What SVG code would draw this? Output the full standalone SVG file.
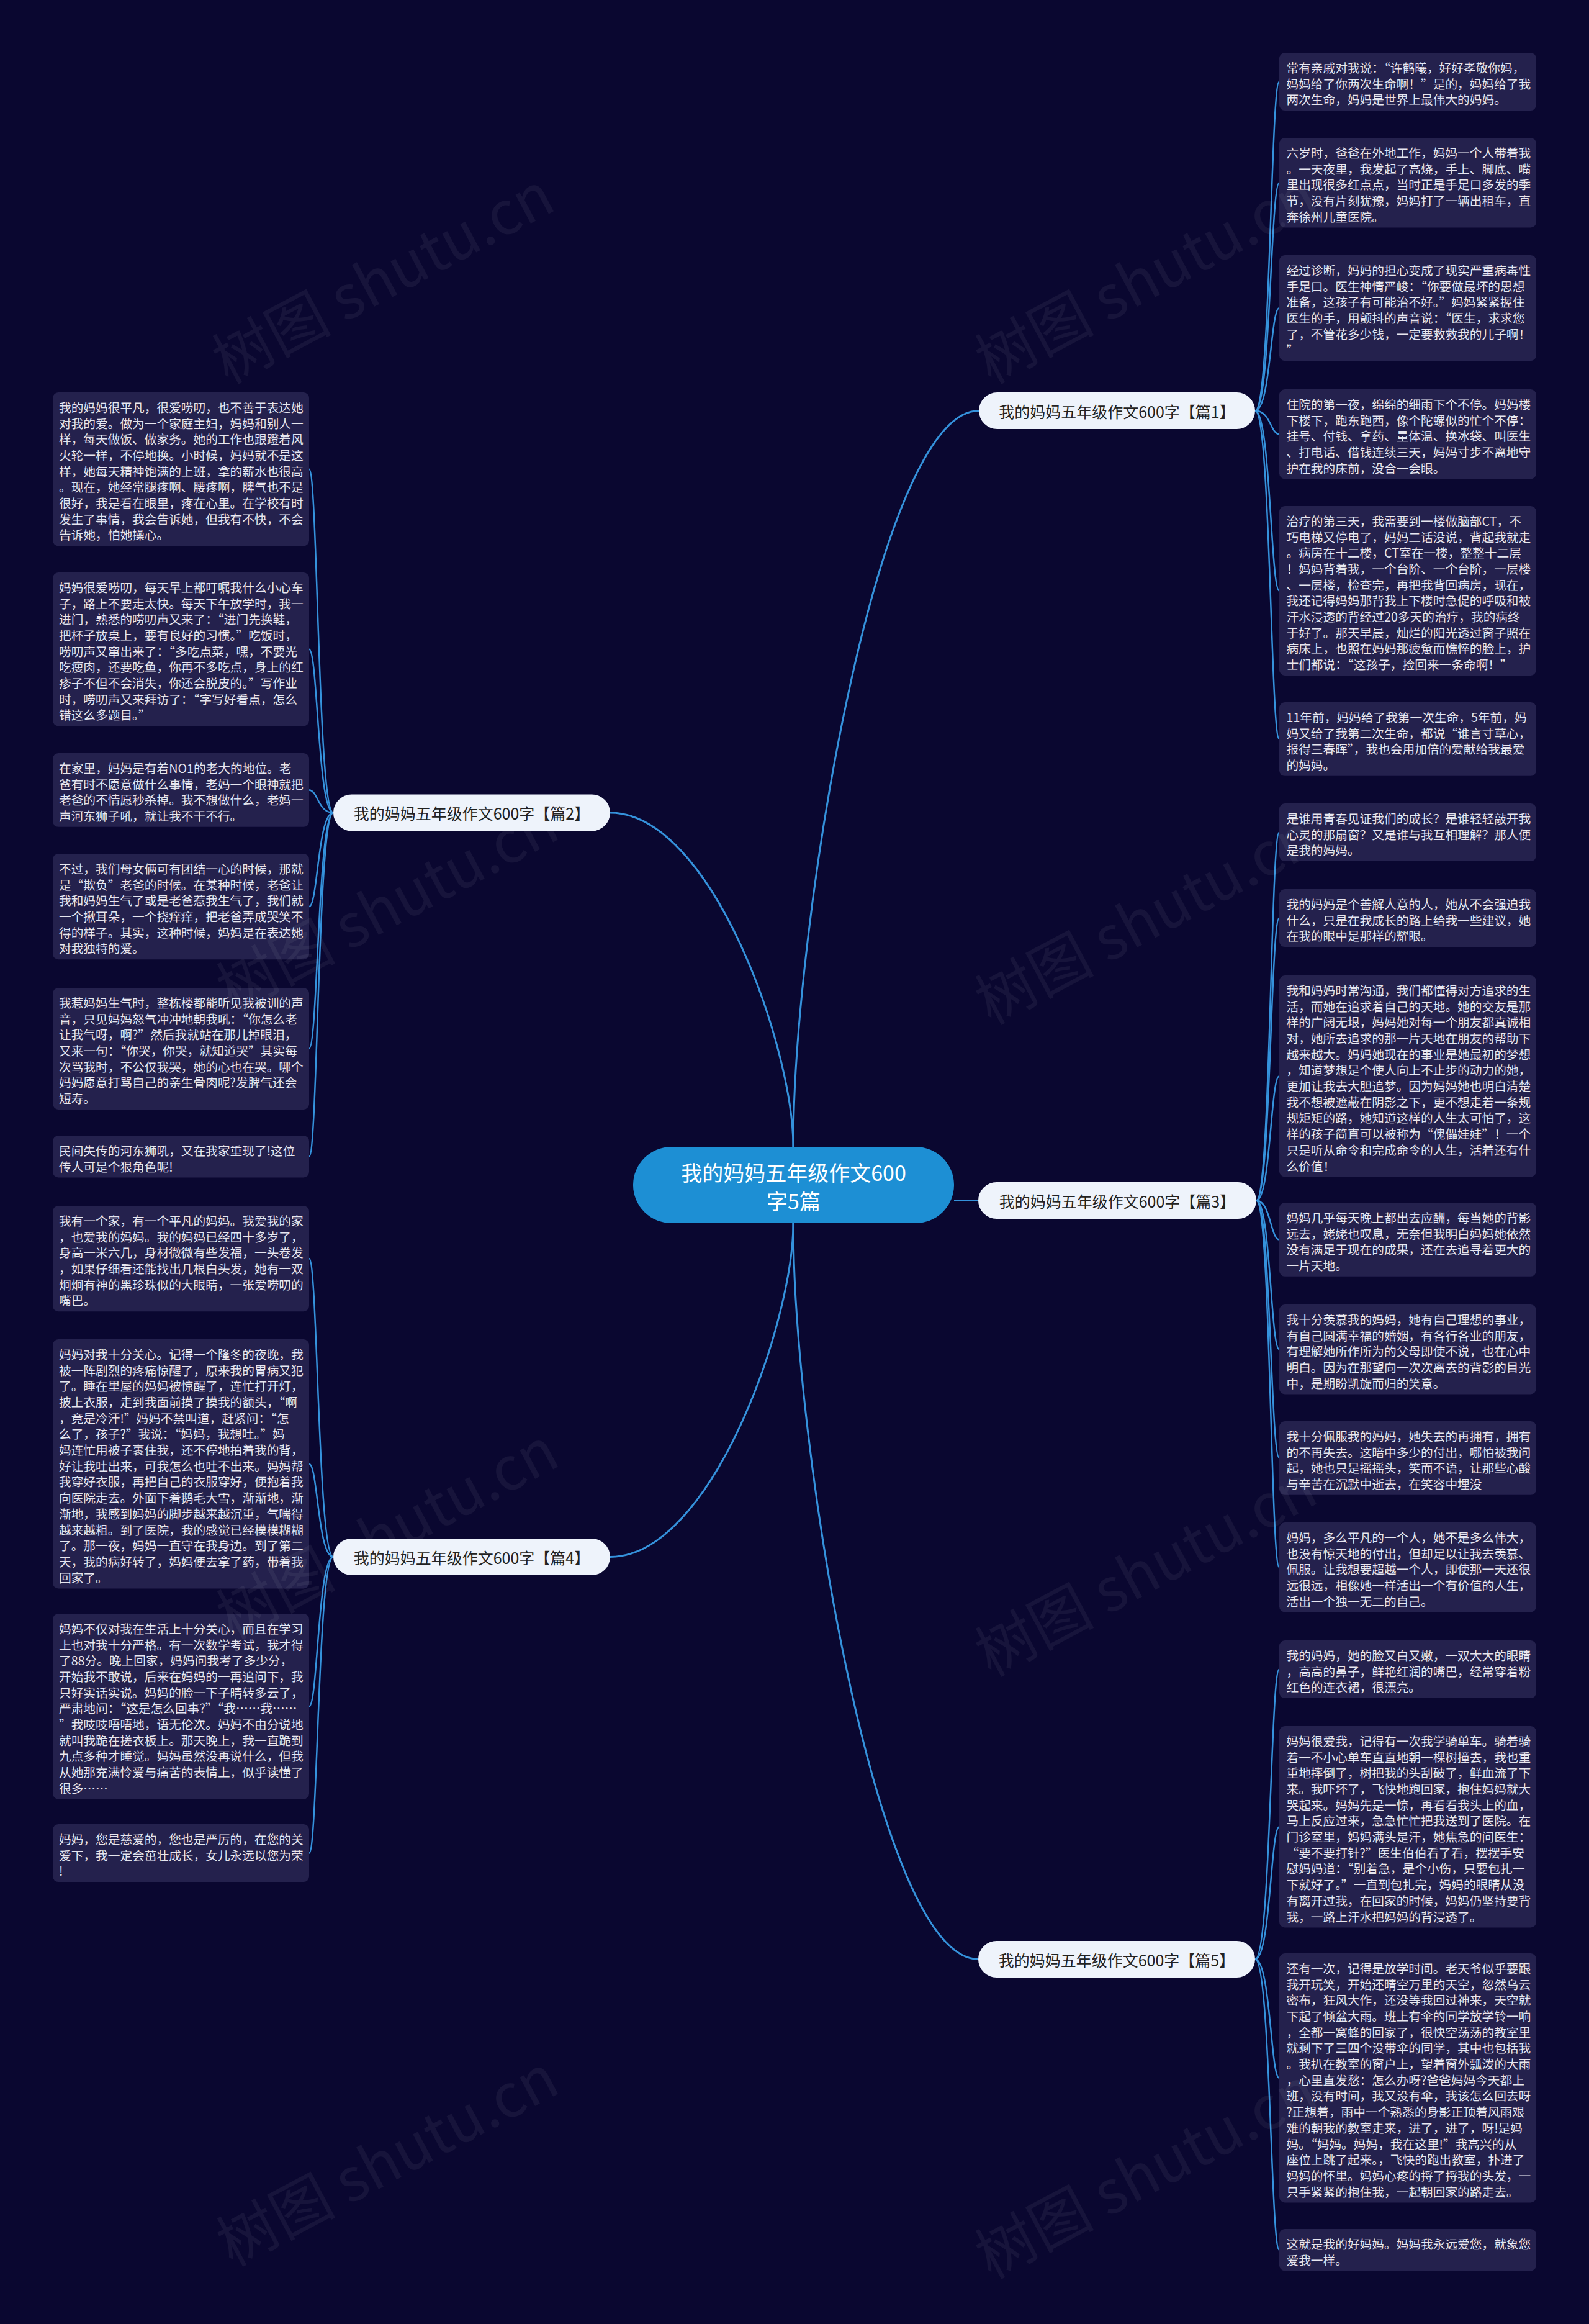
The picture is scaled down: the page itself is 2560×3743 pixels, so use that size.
<svg xmlns="http://www.w3.org/2000/svg" width="2560" height="3743" viewBox="0 0 2560 3743">
<style>
.bg{fill:#0a0730}
.leaf{fill:#24214d}
.lt{font-family:"Noto Sans CJK SC","Noto Sans",sans-serif;font-size:19.7px;fill:#e6e6ef;dominant-baseline:central}
.br{fill:#eef3fb}
.bt{font-family:"Noto Sans CJK SC","Noto Sans",sans-serif;font-size:25px;fill:#222222;dominant-baseline:central;text-anchor:middle}
.ct{font-family:"Noto Sans CJK SC","Noto Sans",sans-serif;font-size:34px;fill:#ffffff;dominant-baseline:central;text-anchor:middle}
.main{fill:none;stroke:#3592dc;stroke-width:3}
.sub{fill:none;stroke:#3592dc;stroke-width:2.5}
.wm{font-family:"Noto Sans CJK SC","Noto Sans",sans-serif;font-size:96px;fill:#ffffff;opacity:0.05}
</style>
<rect class="bg" x="0" y="0" width="2560" height="3743"/>

<g id="connectors">
<path class="main" d="M1278,1847 C1278,1491 1412.6,661.5 1577,661.5"/>
<path class="main" d="M1278,1847 C1278,1685.6 1145,1309 983,1309"/>
<path class="main" d="M1537,1933.5 L1576,1933.5"/>
<path class="main" d="M1278,1970 C1278,2131 1145,2507.5 983,2507.5"/>
<path class="main" d="M1278,1970 C1278,2325.7 1412,3155.5 1576,3155.5"/>
<path class="sub" d="M2022,661.5 C2047,661.5 2047,131.6 2061,131.6"/>
<path class="sub" d="M2022,661.5 C2047,661.5 2047,294.3 2061,294.3"/>
<path class="sub" d="M2022,661.5 C2047,661.5 2047,496.1 2061,496.1"/>
<path class="sub" d="M2022,661.5 C2047,661.5 2047,699.3 2061,699.3"/>
<path class="sub" d="M2022,661.5 C2047,661.5 2047,951.5 2061,951.5"/>
<path class="sub" d="M2022,661.5 C2047,661.5 2047,1190.4 2061,1190.4"/>
<path class="sub" d="M2024,1933.5 C2047,1933.5 2047,1340.6 2061,1340.6"/>
<path class="sub" d="M2024,1933.5 C2047,1933.5 2047,1478.6 2061,1478.6"/>
<path class="sub" d="M2024,1933.5 C2047,1933.5 2047,1733.2 2061,1733.2"/>
<path class="sub" d="M2024,1933.5 C2047,1933.5 2047,1996.4 2061,1996.4"/>
<path class="sub" d="M2024,1933.5 C2047,1933.5 2047,2173.3 2061,2173.3"/>
<path class="sub" d="M2024,1933.5 C2047,1933.5 2047,2348.4 2061,2348.4"/>
<path class="sub" d="M2024,1933.5 C2047,1933.5 2047,2524.3 2061,2524.3"/>
<path class="sub" d="M2022,3155.5 C2047,3155.5 2047,2688.6 2061,2688.6"/>
<path class="sub" d="M2022,3155.5 C2047,3155.5 2047,2942.2 2061,2942.2"/>
<path class="sub" d="M2022,3155.5 C2047,3155.5 2047,3346.8 2061,3346.8"/>
<path class="sub" d="M2022,3155.5 C2047,3155.5 2047,3623.7 2061,3623.7"/>
<path class="sub" d="M537,1309 C512,1309 512,755.7 498,755.7"/>
<path class="sub" d="M537,1309 C512,1309 512,1045.7 498,1045.7"/>
<path class="sub" d="M537,1309 C512,1309 512,1272.4 498,1272.4"/>
<path class="sub" d="M537,1309 C512,1309 512,1460.1 498,1460.1"/>
<path class="sub" d="M537,1309 C512,1309 512,1689 498,1689"/>
<path class="sub" d="M537,1309 C512,1309 512,1862.7 498,1862.7"/>
<path class="sub" d="M537,2507.5 C512,2507.5 512,2027.1 498,2027.1"/>
<path class="sub" d="M537,2507.5 C512,2507.5 512,2357.8 498,2357.8"/>
<path class="sub" d="M537,2507.5 C512,2507.5 512,2748.4 498,2748.4"/>
<path class="sub" d="M537,2507.5 C512,2507.5 512,2984.6 498,2984.6"/>
</g>

<g id="center">
<rect x="1020" y="1847" width="517" height="123" rx="61.5" fill="#1d8fd4"/>
<text class="ct" x="1278.5" y="1887">我的妈妈五年级作文600</text>
<text class="ct" x="1278.5" y="1933">字5篇</text>
</g>

<g id="b1"><rect class="br" x="1577" y="632" width="445" height="59" rx="29.5"/><text class="bt" x="1799.5" y="661.5">我的妈妈五年级作文600字【篇1】</text></g>
<g id="b2"><rect class="br" x="537" y="1279.5" width="446" height="59" rx="29.5"/><text class="bt" x="760" y="1309">我的妈妈五年级作文600字【篇2】</text></g>
<g id="b3"><rect class="br" x="1576" y="1904" width="448" height="59" rx="29.5"/><text class="bt" x="1800" y="1933.5">我的妈妈五年级作文600字【篇3】</text></g>
<g id="b4"><rect class="br" x="537" y="2478" width="446" height="59" rx="29.5"/><text class="bt" x="760" y="2507.5">我的妈妈五年级作文600字【篇4】</text></g>
<g id="b5"><rect class="br" x="1576" y="3126" width="446" height="59" rx="29.5"/><text class="bt" x="1799" y="3155.5">我的妈妈五年级作文600字【篇5】</text></g>

<g id="r1a"><rect class="leaf" x="2061" y="85" width="414" height="93.1" rx="9"/><text class="lt"><tspan x="2072.5" y="107.85">常有亲戚对我说：“许鹤曦，好好孝敬你妈，</tspan><tspan x="2072.5" dy="25.7">妈妈给了你两次生命啊！”是的，妈妈给了我</tspan><tspan x="2072.5" dy="25.7">两次生命，妈妈是世界上最伟大的妈妈。</tspan></text></g>
<g id="r1b"><rect class="leaf" x="2061" y="222" width="414" height="144.5" rx="9"/><text class="lt"><tspan x="2072.5" y="244.85">六岁时，爸爸在外地工作，妈妈一个人带着我</tspan><tspan x="2072.5" dy="25.7">。一天夜里，我发起了高烧，手上、脚底、嘴</tspan><tspan x="2072.5" dy="25.7">里出现很多红点点，当时正是手足口多发的季</tspan><tspan x="2072.5" dy="25.7">节，没有片刻犹豫，妈妈打了一辆出租车，直</tspan><tspan x="2072.5" dy="25.7">奔徐州儿童医院。</tspan></text></g>
<g id="r1c"><rect class="leaf" x="2061" y="411" width="414" height="170.2" rx="9"/><text class="lt"><tspan x="2072.5" y="433.85">经过诊断，妈妈的担心变成了现实严重病毒性</tspan><tspan x="2072.5" dy="25.7">手足口。医生神情严峻：“你要做最坏的思想</tspan><tspan x="2072.5" dy="25.7">准备，这孩子有可能治不好。”妈妈紧紧握住</tspan><tspan x="2072.5" dy="25.7">医生的手，用颤抖的声音说：“医生，求求您</tspan><tspan x="2072.5" dy="25.7">了，不管花多少钱，一定要救救我的儿子啊！</tspan><tspan x="2072.5" dy="25.7">”</tspan></text></g>
<g id="r1d"><rect class="leaf" x="2061" y="627" width="414" height="144.5" rx="9"/><text class="lt"><tspan x="2072.5" y="649.85">住院的第一夜，绵绵的细雨下个不停。妈妈楼</tspan><tspan x="2072.5" dy="25.7">下楼下，跑东跑西，像个陀螺似的忙个不停：</tspan><tspan x="2072.5" dy="25.7">挂号、付钱、拿药、量体温、换冰袋、叫医生</tspan><tspan x="2072.5" dy="25.7">、打电话、借钱连续三天，妈妈寸步不离地守</tspan><tspan x="2072.5" dy="25.7">护在我的床前，没合一会眼。</tspan></text></g>
<g id="r1e"><rect class="leaf" x="2061" y="815" width="414" height="273" rx="9"/><text class="lt"><tspan x="2072.5" y="837.85">治疗的第三天，我需要到一楼做脑部CT，不</tspan><tspan x="2072.5" dy="25.7">巧电梯又停电了，妈妈二话没说，背起我就走</tspan><tspan x="2072.5" dy="25.7">。病房在十二楼，CT室在一楼，整整十二层</tspan><tspan x="2072.5" dy="25.7">！妈妈背着我，一个台阶、一个台阶，一层楼</tspan><tspan x="2072.5" dy="25.7">、一层楼，检查完，再把我背回病房，现在，</tspan><tspan x="2072.5" dy="25.7">我还记得妈妈那背我上下楼时急促的呼吸和被</tspan><tspan x="2072.5" dy="25.7">汗水浸透的背经过20多天的治疗，我的病终</tspan><tspan x="2072.5" dy="25.7">于好了。那天早晨，灿烂的阳光透过窗子照在</tspan><tspan x="2072.5" dy="25.7">病床上，也照在妈妈那疲惫而憔悴的脸上，护</tspan><tspan x="2072.5" dy="25.7">士们都说：“这孩子，捡回来一条命啊！”</tspan></text></g>
<g id="r1f"><rect class="leaf" x="2061" y="1131" width="414" height="118.8" rx="9"/><text class="lt"><tspan x="2072.5" y="1153.85">11年前，妈妈给了我第一次生命，5年前，妈</tspan><tspan x="2072.5" dy="25.7">妈又给了我第二次生命，都说“谁言寸草心，</tspan><tspan x="2072.5" dy="25.7">报得三春晖”，我也会用加倍的爱献给我最爱</tspan><tspan x="2072.5" dy="25.7">的妈妈。</tspan></text></g>

<g id="r3a"><rect class="leaf" x="2061" y="1294" width="414" height="93.1" rx="9"/><text class="lt"><tspan x="2072.5" y="1316.85">是谁用青春见证我们的成长？是谁轻轻敲开我</tspan><tspan x="2072.5" dy="25.7">心灵的那扇窗？又是谁与我互相理解？那人便</tspan><tspan x="2072.5" dy="25.7">是我的妈妈。</tspan></text></g>
<g id="r3b"><rect class="leaf" x="2061" y="1432" width="414" height="93.1" rx="9"/><text class="lt"><tspan x="2072.5" y="1454.85">我的妈妈是个善解人意的人，她从不会强迫我</tspan><tspan x="2072.5" dy="25.7">什么，只是在我成长的路上给我一些建议，她</tspan><tspan x="2072.5" dy="25.7">在我的眼中是那样的耀眼。</tspan></text></g>
<g id="r3c"><rect class="leaf" x="2061" y="1571" width="414" height="324.4" rx="9"/><text class="lt"><tspan x="2072.5" y="1593.85">我和妈妈时常沟通，我们都懂得对方追求的生</tspan><tspan x="2072.5" dy="25.7">活，而她在追求着自己的天地。她的交友是那</tspan><tspan x="2072.5" dy="25.7">样的广阔无垠，妈妈她对每一个朋友都真诚相</tspan><tspan x="2072.5" dy="25.7">对，她所去追求的那一片天地在朋友的帮助下</tspan><tspan x="2072.5" dy="25.7">越来越大。妈妈她现在的事业是她最初的梦想</tspan><tspan x="2072.5" dy="25.7">，知道梦想是个使人向上不止步的动力的她，</tspan><tspan x="2072.5" dy="25.7">更加让我去大胆追梦。因为妈妈她也明白清楚</tspan><tspan x="2072.5" dy="25.7">我不想被遮蔽在阴影之下，更不想走着一条规</tspan><tspan x="2072.5" dy="25.7">规矩矩的路，她知道这样的人生太可怕了，这</tspan><tspan x="2072.5" dy="25.7">样的孩子简直可以被称为“傀儡娃娃”！一个</tspan><tspan x="2072.5" dy="25.7">只是听从命令和完成命令的人生，活着还有什</tspan><tspan x="2072.5" dy="25.7">么价值！</tspan></text></g>
<g id="r3d"><rect class="leaf" x="2061" y="1937" width="414" height="118.8" rx="9"/><text class="lt"><tspan x="2072.5" y="1959.85">妈妈几乎每天晚上都出去应酬，每当她的背影</tspan><tspan x="2072.5" dy="25.7">远去，姥姥也叹息，无奈但我明白妈妈她依然</tspan><tspan x="2072.5" dy="25.7">没有满足于现在的成果，还在去追寻着更大的</tspan><tspan x="2072.5" dy="25.7">一片天地。</tspan></text></g>
<g id="r3e"><rect class="leaf" x="2061" y="2101" width="414" height="144.5" rx="9"/><text class="lt"><tspan x="2072.5" y="2123.85">我十分羡慕我的妈妈，她有自己理想的事业，</tspan><tspan x="2072.5" dy="25.7">有自己圆满幸福的婚姻，有各行各业的朋友，</tspan><tspan x="2072.5" dy="25.7">有理解她所作所为的父母即使不说，也在心中</tspan><tspan x="2072.5" dy="25.7">明白。因为在那望向一次次离去的背影的目光</tspan><tspan x="2072.5" dy="25.7">中，是期盼凯旋而归的笑意。</tspan></text></g>
<g id="r3f"><rect class="leaf" x="2061" y="2289" width="414" height="118.8" rx="9"/><text class="lt"><tspan x="2072.5" y="2311.85">我十分佩服我的妈妈，她失去的再拥有，拥有</tspan><tspan x="2072.5" dy="25.7">的不再失去。这暗中多少的付出，哪怕被我问</tspan><tspan x="2072.5" dy="25.7">起，她也只是摇摇头，笑而不语，让那些心酸</tspan><tspan x="2072.5" dy="25.7">与辛苦在沉默中逝去，在笑容中埋没</tspan></text></g>
<g id="r3g"><rect class="leaf" x="2061" y="2452" width="414" height="144.5" rx="9"/><text class="lt"><tspan x="2072.5" y="2474.85">妈妈，多么平凡的一个人，她不是多么伟大，</tspan><tspan x="2072.5" dy="25.7">也没有惊天地的付出，但却足以让我去羡慕、</tspan><tspan x="2072.5" dy="25.7">佩服。让我想要超越一个人，即使那一天还很</tspan><tspan x="2072.5" dy="25.7">远很远，相像她一样活出一个有价值的人生，</tspan><tspan x="2072.5" dy="25.7">活出一个独一无二的自己。</tspan></text></g>

<g id="r5a"><rect class="leaf" x="2061" y="2642" width="414" height="93.1" rx="9"/><text class="lt"><tspan x="2072.5" y="2664.85">我的妈妈，她的脸又白又嫩，一双大大的眼睛</tspan><tspan x="2072.5" dy="25.7">，高高的鼻子，鲜艳红润的嘴巴，经常穿着粉</tspan><tspan x="2072.5" dy="25.7">红色的连衣裙，很漂亮。</tspan></text></g>
<g id="r5b"><rect class="leaf" x="2061" y="2780" width="414" height="324.4" rx="9"/><text class="lt"><tspan x="2072.5" y="2802.85">妈妈很爱我，记得有一次我学骑单车。骑着骑</tspan><tspan x="2072.5" dy="25.7">着一不小心单车直直地朝一棵树撞去，我也重</tspan><tspan x="2072.5" dy="25.7">重地摔倒了，树把我的头刮破了，鲜血流了下</tspan><tspan x="2072.5" dy="25.7">来。我吓坏了，飞快地跑回家，抱住妈妈就大</tspan><tspan x="2072.5" dy="25.7">哭起来。妈妈先是一惊，再看看我头上的血，</tspan><tspan x="2072.5" dy="25.7">马上反应过来，急急忙忙把我送到了医院。在</tspan><tspan x="2072.5" dy="25.7">门诊室里，妈妈满头是汗，她焦急的问医生：</tspan><tspan x="2072.5" dy="25.7">“要不要打针?”医生伯伯看了看，摆摆手安</tspan><tspan x="2072.5" dy="25.7">慰妈妈道：“别着急，是个小伤，只要包扎一</tspan><tspan x="2072.5" dy="25.7">下就好了。”一直到包扎完，妈妈的眼睛从没</tspan><tspan x="2072.5" dy="25.7">有离开过我，在回家的时候，妈妈仍坚持要背</tspan><tspan x="2072.5" dy="25.7">我，一路上汗水把妈妈的背浸透了。</tspan></text></g>
<g id="r5c"><rect class="leaf" x="2061" y="3146" width="414" height="401.5" rx="9"/><text class="lt"><tspan x="2072.5" y="3168.85">还有一次，记得是放学时间。老天爷似乎要跟</tspan><tspan x="2072.5" dy="25.7">我开玩笑，开始还晴空万里的天空，忽然乌云</tspan><tspan x="2072.5" dy="25.7">密布，狂风大作，还没等我回过神来，天空就</tspan><tspan x="2072.5" dy="25.7">下起了倾盆大雨。班上有伞的同学放学铃一响</tspan><tspan x="2072.5" dy="25.7">，全都一窝蜂的回家了，很快空荡荡的教室里</tspan><tspan x="2072.5" dy="25.7">就剩下了三四个没带伞的同学，其中也包括我</tspan><tspan x="2072.5" dy="25.7">。我扒在教室的窗户上，望着窗外瓢泼的大雨</tspan><tspan x="2072.5" dy="25.7">，心里直发愁：怎么办呀?爸爸妈妈今天都上</tspan><tspan x="2072.5" dy="25.7">班，没有时间，我又没有伞，我该怎么回去呀</tspan><tspan x="2072.5" dy="25.7">?正想着，雨中一个熟悉的身影正顶着风雨艰</tspan><tspan x="2072.5" dy="25.7">难的朝我的教室走来，进了，进了，呀!是妈</tspan><tspan x="2072.5" dy="25.7">妈。“妈妈。妈妈，我在这里!”我高兴的从</tspan><tspan x="2072.5" dy="25.7">座位上跳了起来。，飞快的跑出教室，扑进了</tspan><tspan x="2072.5" dy="25.7">妈妈的怀里。妈妈心疼的捋了捋我的头发，一</tspan><tspan x="2072.5" dy="25.7">只手紧紧的抱住我，一起朝回家的路走去。</tspan></text></g>
<g id="r5d"><rect class="leaf" x="2061" y="3590" width="414" height="67.4" rx="9"/><text class="lt"><tspan x="2072.5" y="3612.85">这就是我的好妈妈。妈妈我永远爱您，就象您</tspan><tspan x="2072.5" dy="25.7">爱我一样。</tspan></text></g>

<g id="l2a"><rect class="leaf" x="85" y="632" width="413" height="247.3" rx="9"/><text class="lt"><tspan x="95" y="654.85">我的妈妈很平凡，很爱唠叨，也不善于表达她</tspan><tspan x="95" dy="25.7">对我的爱。做为一个家庭主妇，妈妈和别人一</tspan><tspan x="95" dy="25.7">样，每天做饭、做家务。她的工作也跟蹬着风</tspan><tspan x="95" dy="25.7">火轮一样，不停地换。小时候，妈妈就不是这</tspan><tspan x="95" dy="25.7">样，她每天精神饱满的上班，拿的薪水也很高</tspan><tspan x="95" dy="25.7">。现在，她经常腿疼啊、腰疼啊，脾气也不是</tspan><tspan x="95" dy="25.7">很好，我是看在眼里，疼在心里。在学校有时</tspan><tspan x="95" dy="25.7">发生了事情，我会告诉她，但我有不快，不会</tspan><tspan x="95" dy="25.7">告诉她，怕她操心。</tspan></text></g>
<g id="l2b"><rect class="leaf" x="85" y="922" width="413" height="247.3" rx="9"/><text class="lt"><tspan x="95" y="944.85">妈妈很爱唠叨，每天早上都叮嘱我什么小心车</tspan><tspan x="95" dy="25.7">子，路上不要走太快。每天下午放学时，我一</tspan><tspan x="95" dy="25.7">进门，熟悉的唠叨声又来了：“进门先换鞋，</tspan><tspan x="95" dy="25.7">把杯子放桌上，要有良好的习惯。”吃饭时，</tspan><tspan x="95" dy="25.7">唠叨声又窜出来了：“多吃点菜，嘿，不要光</tspan><tspan x="95" dy="25.7">吃瘦肉，还要吃鱼，你再不多吃点，身上的红</tspan><tspan x="95" dy="25.7">疹子不但不会消失，你还会脱皮的。”写作业</tspan><tspan x="95" dy="25.7">时，唠叨声又来拜访了：“字写好看点，怎么</tspan><tspan x="95" dy="25.7">错这么多题目。”</tspan></text></g>
<g id="l2c"><rect class="leaf" x="85" y="1213" width="413" height="118.8" rx="9"/><text class="lt"><tspan x="95" y="1235.85">在家里，妈妈是有着NO1的老大的地位。老</tspan><tspan x="95" dy="25.7">爸有时不愿意做什么事情，老妈一个眼神就把</tspan><tspan x="95" dy="25.7">老爸的不情愿秒杀掉。我不想做什么，老妈一</tspan><tspan x="95" dy="25.7">声河东狮子吼，就让我不干不行。</tspan></text></g>
<g id="l2d"><rect class="leaf" x="85" y="1375" width="413" height="170.2" rx="9"/><text class="lt"><tspan x="95" y="1397.85">不过，我们母女俩可有团结一心的时候，那就</tspan><tspan x="95" dy="25.7">是“欺负”老爸的时候。在某种时候，老爸让</tspan><tspan x="95" dy="25.7">我和妈妈生气了或是老爸惹我生气了，我们就</tspan><tspan x="95" dy="25.7">一个揪耳朵，一个挠痒痒，把老爸弄成哭笑不</tspan><tspan x="95" dy="25.7">得的样子。其实，这种时候，妈妈是在表达她</tspan><tspan x="95" dy="25.7">对我独特的爱。</tspan></text></g>
<g id="l2e"><rect class="leaf" x="85" y="1591" width="413" height="195.9" rx="9"/><text class="lt"><tspan x="95" y="1613.85">我惹妈妈生气时，整栋楼都能听见我被训的声</tspan><tspan x="95" dy="25.7">音，只见妈妈怒气冲冲地朝我吼：“你怎么老</tspan><tspan x="95" dy="25.7">让我气呀，啊?”然后我就站在那儿掉眼泪，</tspan><tspan x="95" dy="25.7">又来一句：“你哭，你哭，就知道哭”其实每</tspan><tspan x="95" dy="25.7">次骂我时，不公仅我哭，她的心也在哭。哪个</tspan><tspan x="95" dy="25.7">妈妈愿意打骂自己的亲生骨肉呢?发脾气还会</tspan><tspan x="95" dy="25.7">短寿。</tspan></text></g>
<g id="l2f"><rect class="leaf" x="85" y="1829" width="413" height="67.4" rx="9"/><text class="lt"><tspan x="95" y="1851.85">民间失传的河东狮吼，又在我家重现了!这位</tspan><tspan x="95" dy="25.7">传人可是个狠角色呢!</tspan></text></g>

<g id="l4a"><rect class="leaf" x="85" y="1942" width="413" height="170.2" rx="9"/><text class="lt"><tspan x="95" y="1964.85">我有一个家，有一个平凡的妈妈。我爱我的家</tspan><tspan x="95" dy="25.7">，也爱我的妈妈。我的妈妈已经四十多岁了，</tspan><tspan x="95" dy="25.7">身高一米六几，身材微微有些发福，一头卷发</tspan><tspan x="95" dy="25.7">，如果仔细看还能找出几根白头发，她有一双</tspan><tspan x="95" dy="25.7">炯炯有神的黑珍珠似的大眼睛，一张爱唠叨的</tspan><tspan x="95" dy="25.7">嘴巴。</tspan></text></g>
<g id="l4b"><rect class="leaf" x="85" y="2157" width="413" height="401.5" rx="9"/><text class="lt"><tspan x="95" y="2179.85">妈妈对我十分关心。记得一个隆冬的夜晚，我</tspan><tspan x="95" dy="25.7">被一阵剧烈的疼痛惊醒了，原来我的胃病又犯</tspan><tspan x="95" dy="25.7">了。睡在里屋的妈妈被惊醒了，连忙打开灯，</tspan><tspan x="95" dy="25.7">披上衣服，走到我面前摸了摸我的额头，“啊</tspan><tspan x="95" dy="25.7">，竟是冷汗!”妈妈不禁叫道，赶紧问：“怎</tspan><tspan x="95" dy="25.7">么了，孩子?”我说：“妈妈，我想吐。”妈</tspan><tspan x="95" dy="25.7">妈连忙用被子裹住我，还不停地拍着我的背，</tspan><tspan x="95" dy="25.7">好让我吐出来，可我怎么也吐不出来。妈妈帮</tspan><tspan x="95" dy="25.7">我穿好衣服，再把自己的衣服穿好，便抱着我</tspan><tspan x="95" dy="25.7">向医院走去。外面下着鹅毛大雪，渐渐地，渐</tspan><tspan x="95" dy="25.7">渐地，我感到妈妈的脚步越来越沉重，气喘得</tspan><tspan x="95" dy="25.7">越来越粗。到了医院，我的感觉已经模模糊糊</tspan><tspan x="95" dy="25.7">了。那一夜，妈妈一直守在我身边。到了第二</tspan><tspan x="95" dy="25.7">天，我的病好转了，妈妈便去拿了药，带着我</tspan><tspan x="95" dy="25.7">回家了。</tspan></text></g>
<g id="l4c"><rect class="leaf" x="85" y="2599" width="413" height="298.7" rx="9"/><text class="lt"><tspan x="95" y="2621.85">妈妈不仅对我在生活上十分关心，而且在学习</tspan><tspan x="95" dy="25.7">上也对我十分严格。有一次数学考试，我才得</tspan><tspan x="95" dy="25.7">了88分。晚上回家，妈妈问我考了多少分，</tspan><tspan x="95" dy="25.7">开始我不敢说，后来在妈妈的一再追问下，我</tspan><tspan x="95" dy="25.7">只好实话实说。妈妈的脸一下子晴转多云了，</tspan><tspan x="95" dy="25.7">严肃地问：“这是怎么回事?”“我……我……</tspan><tspan x="95" dy="25.7">”我吱吱唔唔地，语无伦次。妈妈不由分说地</tspan><tspan x="95" dy="25.7">就叫我跪在搓衣板上。那天晚上，我一直跪到</tspan><tspan x="95" dy="25.7">九点多种才睡觉。妈妈虽然没再说什么，但我</tspan><tspan x="95" dy="25.7">从她那充满怜爱与痛苦的表情上，似乎读懂了</tspan><tspan x="95" dy="25.7">很多……</tspan></text></g>
<g id="l4d"><rect class="leaf" x="85" y="2938" width="413" height="93.1" rx="9"/><text class="lt"><tspan x="95" y="2960.85">妈妈，您是慈爱的，您也是严厉的，在您的关</tspan><tspan x="95" dy="25.7">爱下，我一定会茁壮成长，女儿永远以您为荣</tspan><tspan x="95" dy="25.7">!</tspan></text></g>

<g id="watermarks">
<text class="wm" x="633" y="478" text-anchor="middle" transform="rotate(-28 633 478)">树图 shutu.cn</text>
<text class="wm" x="1862" y="478" text-anchor="middle" transform="rotate(-28 1862 478)">树图 shutu.cn</text>
<text class="wm" x="640" y="1490" text-anchor="middle" transform="rotate(-28 640 1490)">树图 shutu.cn</text>
<text class="wm" x="1862" y="1510" text-anchor="middle" transform="rotate(-28 1862 1510)">树图 shutu.cn</text>
<text class="wm" x="640" y="2500" text-anchor="middle" transform="rotate(-28 640 2500)">树图 shutu.cn</text>
<text class="wm" x="1862" y="2560" text-anchor="middle" transform="rotate(-28 1862 2560)">树图 shutu.cn</text>
<text class="wm" x="640" y="3510" text-anchor="middle" transform="rotate(-28 640 3510)">树图 shutu.cn</text>
<text class="wm" x="1862" y="3530" text-anchor="middle" transform="rotate(-28 1862 3530)">树图 shutu.cn</text>
</g>
</svg>
